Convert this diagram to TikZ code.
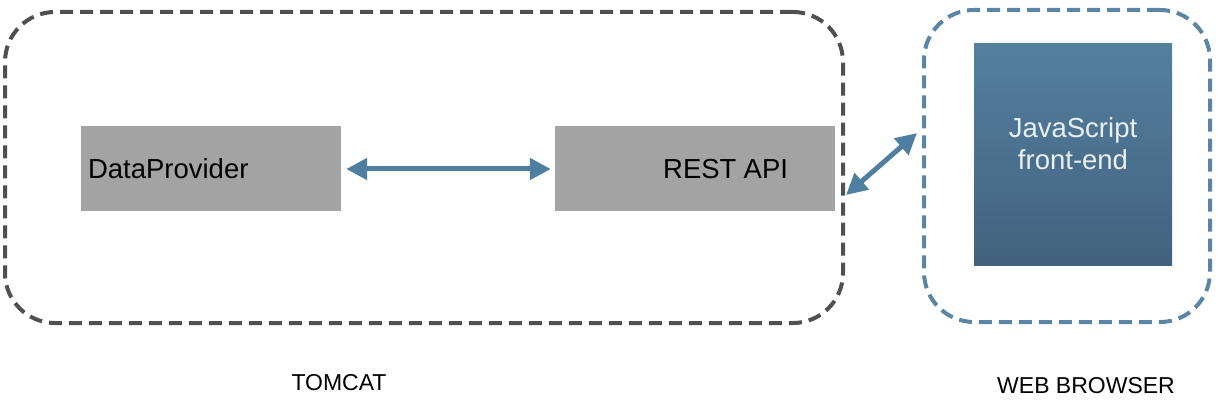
\documentclass[tikz,border=0pt]{standalone}
\usepackage{fontspec}
\setmainfont{Liberation Sans}
\usetikzlibrary{arrows.meta,positioning}
\definecolor{tomcatgray}{HTML}{505050}
\definecolor{boxgray}{HTML}{A3A3A3}
\definecolor{linkblue}{HTML}{4F7FA0}
\definecolor{browserblue}{HTML}{5C84A4}
\definecolor{jstop}{HTML}{53809F}
\definecolor{jsbottom}{HTML}{43617D}
\definecolor{jstext}{HTML}{E8F0F4}
\newcommand{\boxfont}{\fontsize{27.5}{32}\selectfont}
\newcommand{\captionfont}{\fontsize{23}{27}\selectfont}

\begin{document}
\begin{tikzpicture}[x=1pt,y=-1pt,
    container/.style={draw, line width=4pt, dash pattern=on 13pt off 7pt,
      rounded corners=50pt, minimum width=#1},
    container/.default=100pt,
    graybox/.style={fill=boxgray, minimum height=85pt, font=\boxfont},
    link/.style={{Triangle[length=21pt,width=21pt]}-{Triangle[length=21pt,width=21pt]},
      line width=5pt, draw=linkblue}]
    \useasboundingbox (0,0) rectangle (1229,414);

    % the two dashed containers
    \node[container=838pt, draw=tomcatgray, minimum height=311pt] (tomcat) at (424,167.5) {};
    \node[container=286pt, draw=browserblue, minimum height=312pt] (browser) at (1067,166) {};

    \node[graybox, minimum width=260pt, text width=246pt, inner xsep=7pt, align=left]
      (dataprovider) at (211,169) {DataProvider};
    \node[graybox, minimum width=280pt, text width=186pt, inner xsep=47pt, align=right]
      (restapi) at (695,169) {REST\hspace{-2pt} API};
    \node[top color=jstop, bottom color=jsbottom, minimum width=198pt, minimum height=221pt,
      text=jstext, font=\boxfont, align=center, text depth=22pt]
      (frontend) at (1073,154.5) {JavaScript\\front-end};

    \node[font=\captionfont] (tomcatlabel) at (339,383) {TOMCAT};
    \node[font=\captionfont] (browserlabel) at (1086,386) {WEB BROWSER};

    % links
    \draw[link, shorten >=4pt, shorten <=5pt] (dataprovider.east) -- (restapi.west);
    \coordinate (restport) at (846,195);
    \coordinate (browserport) at (917,133);
    \draw[link] (restport) -- (browserport);
\end{tikzpicture}
\end{document}
